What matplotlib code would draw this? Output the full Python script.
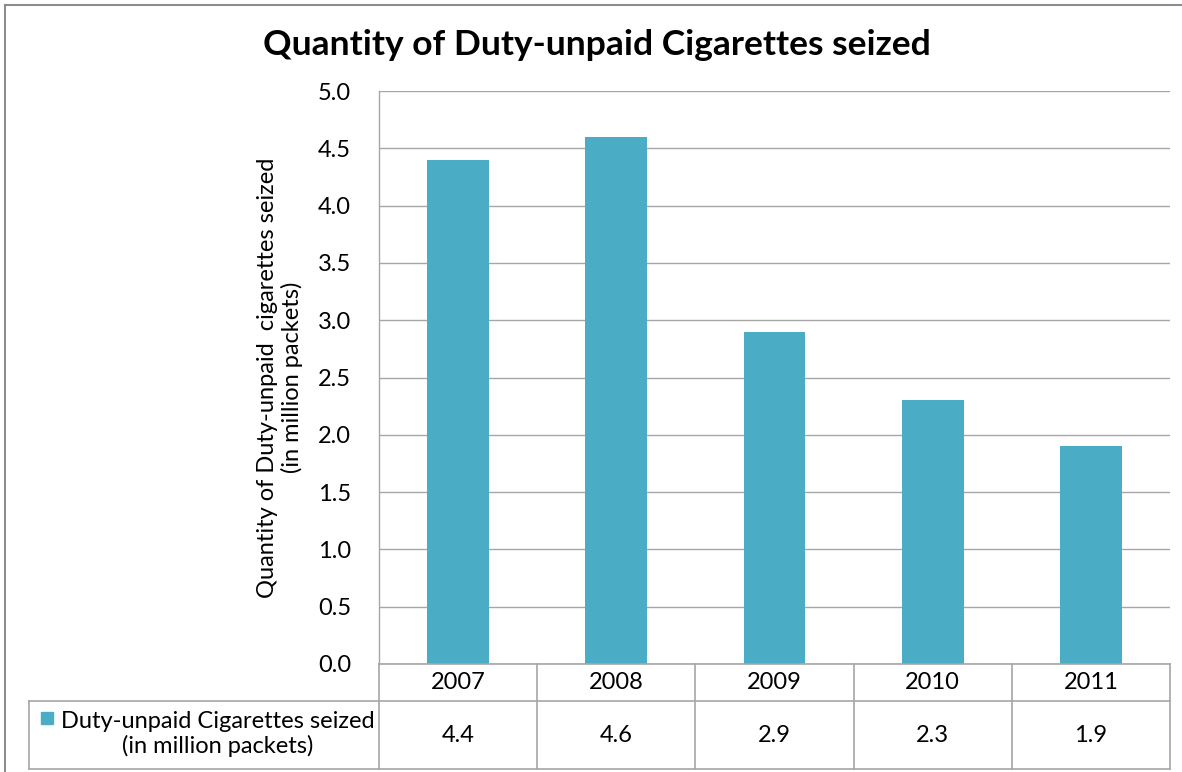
import matplotlib
matplotlib.use("Agg")
import matplotlib.pyplot as plt
from matplotlib.patches import Rectangle
from matplotlib.lines import Line2D

years = ["2007", "2008", "2009", "2010", "2011"]
values = [4.4, 4.6, 2.9, 2.3, 1.9]
series_name = "Duty-unpaid Cigarettes seized\n(in million packets)"
title = "Quantity of Duty-unpaid Cigarettes seized"
ylabel = "Quantity of Duty-unpaid  cigarettes seized\n(in million packets)"
yticks = [0.0, 0.5, 1.0, 1.5, 2.0, 2.5, 3.0, 3.5, 4.0, 4.5, 5.0]

BAR = "#4BACC6"
GRID = "#A6A6A6"
TBL = "#A6A6A6"
FONT = "Lato"
FS = 17
W, H = 1182, 772

plt.rcParams["font.family"] = [FONT, "DejaVu Sans"]
fig = plt.figure(figsize=(W / 100, H / 100), dpi=100)

L, R, T, B = 379, 1170, 91, 664
ax = fig.add_axes([L / W, 1 - B / H, (R - L) / W, (B - T) / H])

x = list(range(len(years)))
ax.bar(x, values, width=0.39, color=BAR, zorder=3)
ax.set_xlim(-0.5, len(years) - 0.5)
ax.set_ylim(0, 5.0)
ax.set_yticks(yticks)
ax.set_yticklabels([f"{v:.1f}" for v in yticks], fontsize=FS)
ax.tick_params(axis="y", length=0, pad=20)
ax.set_xticks([])
ax.grid(axis="y", color=GRID, linewidth=1.0, zorder=0)
for s in ["top", "right", "bottom"]:
    ax.spines[s].set_visible(False)
ax.spines["left"].set_color(GRID)
ax.spines["left"].set_linewidth(1.0)

ax.set_ylabel(ylabel, fontsize=FS, linespacing=1.15, labelpad=11)

fig.text(597 / W, 1 - 45 / H, title, ha="center", va="center",
         fontsize=25.5, fontweight="bold")

tr = ax.get_xaxis_transform()
row1 = -(701 - B) / (B - T)
row2 = -(769 - B) / (B - T)


def px_to_data_x(px):
    return -0.5 + (px - L) / (R - L) * len(years)


xl = px_to_data_x(29)
lines = [
    ([-0.5, len(years) - 0.5], [0, 0]),
    ([xl, len(years) - 0.5], [row1, row1]),
    ([xl, len(years) - 0.5], [row2, row2]),
    ([xl, xl], [row1, row2]),
]
for i in range(len(years) + 1):
    lines.append(([i - 0.5, i - 0.5], [0, row2]))
for xs, ys in lines:
    ax.add_line(Line2D(xs, ys, transform=tr, color=TBL, linewidth=1.2,
                       clip_on=False, zorder=4))

for i, (yr, v) in enumerate(zip(years, values)):
    ax.text(i, row1 / 2, yr, transform=tr, ha="center", va="center",
            fontsize=FS, clip_on=False)
    ax.text(i, (row1 + row2) / 2, f"{v:.1f}", transform=tr, ha="center",
            va="center", fontsize=FS, clip_on=False)

fig.patches.append(Rectangle((41 / W, 1 - 724 / H), 12 / W, 12 / H,
                             transform=fig.transFigure, color=BAR))
fig.text(218 / W, 1 - 734 / H, series_name, ha="center", va="center",
         fontsize=FS, linespacing=1.15)

fig.add_artist(Line2D([5 / W, 5 / W], [0, 1 - 5 / H],
                      transform=fig.transFigure, color="#8C8C8C", linewidth=1.5))
fig.add_artist(Line2D([5 / W, 1], [1 - 5 / H, 1 - 5 / H],
                      transform=fig.transFigure, color="#8C8C8C", linewidth=1.5))

fig.savefig("out.png", dpi=100)
